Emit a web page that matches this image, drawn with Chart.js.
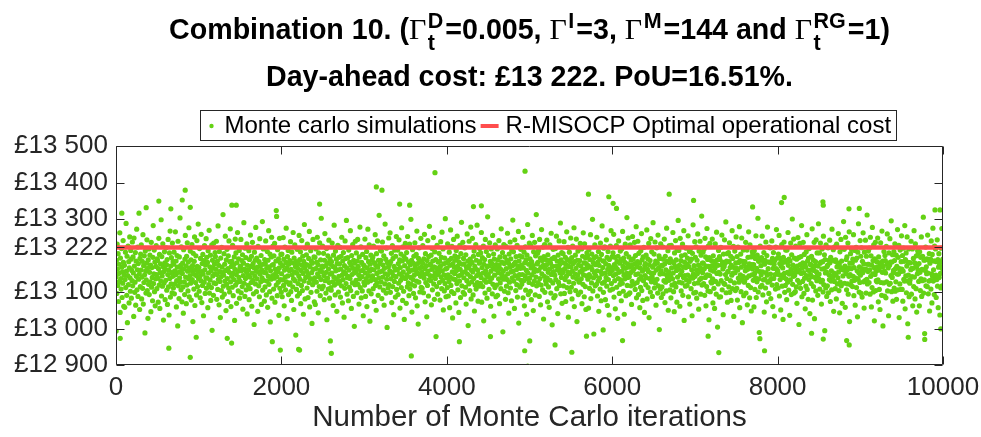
<!DOCTYPE html>
<html>
<head>
<meta charset="utf-8">
<script src="https://cdn.jsdelivr.net/npm/chart.js@4.4.0/dist/chart.umd.min.js"></script>
<style>
  html, body { margin: 0; padding: 0; background: #fff; }
  #chart { display: block; }
</style>
</head>
<body>
<canvas id="chart" width="981" height="437"></canvas>
<script>
// Simulated operational cost of the Monte Carlo runs, in £ above 13 000.
// One array per 1000 iterations, one run kept every 4th iteration.
var COST_BASE = 13000;

var costs0k = [
  142,187,96,231,163,118,205,74,151,176,129,262,44,193,137,108,219,168,85,155,124,241,181,61,146,
  173,58,134,209,112,288,157,91,198,16,145,226,120,183,70,166,251,139,102,214,190,83,159,131,237,
  117,196,152,33,248,171,99,127,208,64,185,143,272,106,161,223,88,178,135,316,149,52,192,115,204,
  160,229,81,141,184,110,257,67,172,126,199,147,-12,212,158,97,133,179,243,104,165,28,188,121,218,
  93,154,201,128,174,46,236,113,167,140,76,195,282,123,150,215,101,182,62,136,170,227,148,109,191,
  186,138,72,164,247,119,203,55,153,177,130,298,89,197,144,116,232,169,23,156,125,210,180,79,162,
  132,221,175,105,189,66,148,244,114,160,37,207,137,267,86,171,122,194,153,98,234,143,183,111,176,
  209,95,158,122,265,147,185,59,131,200,168,7,239,117,154,82,196,139,303,127,173,106,224,164,73,
  151,179,114,42,216,163,128,93,190,255,141,171,68,198,119,235,157,103,182,136,276,87,166,145,212,
  124,188,78,159,230,134,172,19,206,149,108,184,251,63,161,126,199,145,92,241,170,115,155,286,137
];
var costs1k = [
  167,102,219,143,84,192,131,258,156,71,178,118,203,149,35,186,127,227,161,96,174,139,246,110,195,
  138,181,57,213,152,120,269,97,169,133,201,77,158,112,229,-5,187,144,166,91,234,125,177,150,208,
  197,123,162,239,80,148,185,107,281,135,173,65,211,156,129,30,193,142,104,222,168,86,153,312,116,
  146,205,94,176,130,253,159,49,188,121,217,137,74,164,199,111,240,154,100,183,273,128,60,170,143,
  184,113,228,151,90,175,134,196,22,162,245,119,207,148,69,180,127,263,157,103,191,140,214,83,166,
  129,171,244,98,158,186,115,202,53,145,179,290,124,163,88,220,137,194,106,155,232,40,173,147,118,
  160,213,79,189,141,109,256,170,126,198,61,152,236,132,178,95,167,11,209,144,187,122,277,157,101,
  193,136,168,47,225,155,117,183,87,246,149,172,128,200,66,161,139,293,105,176,218,132,154,75,189,
  114,177,240,152,92,165,130,211,58,187,143,268,121,169,101,204,18,158,135,196,250,83,174,145,226,
  175,108,199,138,233,72,163,151,185,119,307,142,90,216,156,127,191,36,166,247,110,180,134,203,99
];
var costs2k = [
  150,204,87,172,133,249,118,190,62,160,223,141,106,181,275,128,167,27,197,144,214,93,176,121,158,
  186,125,238,101,162,77,209,147,180,114,263,136,52,193,155,229,131,170,-18,183,107,152,217,89,165,
  123,178,144,255,96,189,135,210,68,159,118,241,173,104,198,151,39,184,130,285,166,81,220,140,175,
  202,157,111,231,174,85,148,192,126,266,59,169,137,213,99,185,153,14,179,120,244,162,132,196,73,
  139,195,66,164,218,127,182,102,250,150,175,43,207,142,115,235,161,90,188,134,302,156,109,171,226,
  168,116,206,145,79,187,260,131,172,97,154,219,24,180,138,199,108,163,242,126,83,191,149,176,112,
  105,183,152,234,128,170,63,201,141,283,119,167,92,212,158,135,190,47,178,124,228,161,100,143,195,
  177,129,222,86,163,198,117,250,146,70,185,134,208,155,31,172,110,240,151,192,123,296,166,94,139,
  194,143,76,215,160,113,181,137,268,104,173,55,200,148,125,230,165,88,187,152,6,179,120,239,156,
  132,207,164,98,185,244,121,170,147,67,196,136,278,112,158,224,84,181,142,103,203,159,35,174,127
];
var costs3k = [
  171,119,245,152,88,194,137,211,60,166,127,272,145,183,103,229,157,20,176,131,201,95,162,140,188,
  144,196,109,226,161,74,180,134,257,118,173,50,205,151,126,240,168,91,187,139,310,155,114,178,215,
  187,128,212,82,157,237,141,174,105,199,64,165,122,286,150,190,97,220,135,3,181,147,111,169,248,
  120,176,158,262,99,183,136,206,71,153,227,115,192,145,38,170,129,215,160,86,198,142,252,107,163,
  161,215,93,178,124,243,150,188,56,167,132,204,112,276,143,185,77,224,155,102,197,25,172,138,233,
  137,190,69,208,147,114,252,164,125,182,90,156,231,108,175,140,299,121,187,45,160,216,134,179,96,
  198,146,117,235,170,84,159,203,130,267,62,178,151,12,192,127,221,165,100,185,143,247,113,168,154,
  110,179,227,148,98,191,138,258,164,73,205,126,172,150,32,186,118,241,157,89,197,133,280,174,145,
  176,131,201,65,162,219,106,185,143,249,122,169,80,210,153,137,189,-22,166,115,228,148,94,182,159,
  153,206,126,184,78,170,238,141,195,109,264,158,132,218,51,177,147,103,193,123,301,163,87,180,139
];
var costs4k = [
  165,112,232,147,89,186,129,209,57,173,141,270,118,192,101,225,155,29,178,136,244,96,168,151,199,
  134,187,70,214,159,123,253,170,106,195,144,44,181,130,228,162,85,205,147,291,117,176,153,236,99,
  192,139,177,94,221,156,113,202,67,168,131,259,149,185,8,166,122,239,174,104,190,142,278,81,160,
  128,181,247,155,92,198,137,212,48,171,119,164,230,108,187,145,283,126,160,75,203,150,116,179,219,
  183,124,207,140,263,72,167,194,115,152,226,21,176,133,189,97,244,158,127,211,146,83,170,306,141,
  148,200,107,172,235,129,184,61,157,218,138,177,95,255,121,165,204,34,190,146,112,229,162,87,175,
  119,169,218,91,188,153,136,241,174,68,196,125,163,109,273,149,182,143,208,-9,157,135,230,178,102,
  196,142,80,225,164,116,187,134,261,150,98,179,42,204,127,168,237,111,191,155,76,214,139,172,297,
  157,210,130,177,55,243,145,182,104,197,161,120,228,86,171,138,266,15,185,148,199,113,165,217,132,
  174,121,196,148,250,84,166,131,209,62,180,144,224,105,188,159,39,201,136,285,152,93,176,126,234
];
var costs5k = [
  138,191,102,227,166,79,183,147,255,121,172,49,210,155,130,236,162,92,199,141,312,117,177,158,206,
  181,126,214,160,88,244,137,193,65,168,119,271,150,186,106,223,173,26,197,143,230,99,164,131,189,
  122,175,242,139,73,202,154,114,186,58,163,229,132,179,97,261,148,191,10,170,125,217,156,84,195,
  192,146,90,219,134,171,253,109,185,160,41,201,127,167,240,118,176,152,289,95,188,140,208,69,159,
  153,205,117,180,238,96,164,134,195,74,176,143,265,112,189,155,222,31,170,128,209,150,101,183,248,
  169,113,194,81,157,226,141,178,124,276,60,183,150,201,104,165,245,136,19,187,146,212,93,174,130,
  127,186,155,233,100,171,136,218,68,159,198,121,262,147,180,87,232,163,115,193,52,178,144,207,166,
  200,135,172,56,216,148,110,189,142,257,82,168,125,204,161,299,103,181,139,-15,194,153,229,117,175,
  144,197,121,250,158,89,182,130,211,47,173,138,190,108,234,156,76,203,149,281,124,167,185,99,220,
  185,128,224,152,79,177,140,243,116,195,63,162,211,134,173,37,189,151,105,226,167,268,123,158,196
];
var costs6k = [
  160,108,207,145,258,86,175,131,195,54,168,149,227,113,184,163,28,198,137,240,154,96,179,121,212,
  133,189,76,218,157,124,266,170,102,193,146,39,182,136,231,165,90,205,151,304,118,177,140,248,94,
  196,142,168,98,229,153,117,187,66,174,129,252,158,191,13,163,121,236,178,107,200,148,279,84,169,
  126,183,239,150,93,206,135,179,57,166,113,213,142,260,104,188,157,77,196,131,222,162,44,173,145,
  178,120,201,139,270,81,162,191,112,156,233,30,174,137,186,100,246,152,128,210,143,88,168,290,134,
  152,204,111,176,237,125,185,64,160,221,135,180,97,256,117,167,199,-3,192,149,108,232,158,85,173,
  114,171,224,95,190,150,131,245,177,71,198,127,161,103,275,146,184,139,213,50,155,132,227,181,106,
  191,144,84,228,166,119,183,136,263,152,101,180,46,207,124,170,241,114,188,159,72,216,141,164,296,
  163,214,127,174,61,247,148,186,103,199,157,125,231,91,169,140,268,22,182,145,202,116,167,220,133,
  176,118,193,146,254,87,170,129,211,67,184,141,219,109,190,161,35,206,138,284,150,97,172,123,238
];
var costs7k = [
  143,195,99,224,161,83,187,150,259,125,174,53,212,157,134,239,166,94,201,138,308,119,179,153,209,
  179,123,217,164,91,247,140,196,62,171,115,274,147,189,103,226,170,24,194,145,233,101,160,128,186,
  125,172,245,136,70,199,157,110,183,55,165,232,129,176,94,264,151,188,4,173,122,214,154,86,197,
  189,149,87,222,131,174,256,106,182,163,38,204,124,170,243,121,179,148,292,98,185,137,205,72,156,
  156,208,114,183,235,99,167,131,198,77,173,146,268,109,192,152,225,33,167,125,212,153,104,180,251,
  166,110,197,78,160,223,138,181,127,279,57,186,147,204,101,168,248,133,16,184,143,215,90,177,127,
  130,183,158,236,97,168,139,215,65,162,195,118,265,144,177,84,229,166,112,196,48,175,147,210,163,
  203,132,175,59,213,151,107,192,139,254,85,165,128,201,158,302,100,184,136,-11,191,156,226,114,172,
  147,194,118,253,155,92,185,133,208,45,176,135,187,111,237,153,73,200,146,278,127,164,182,96,223,
  182,131,221,149,82,180,137,240,119,192,60,165,208,137,176,34,186,148,108,223,164,271,120,161,193
];
var costs8k = [
  157,111,204,148,255,89,178,134,192,51,171,146,230,116,181,166,25,195,140,237,151,99,182,118,215,
  136,186,79,215,154,127,263,173,105,190,149,36,185,133,234,162,93,202,154,300,121,174,143,245,97,
  193,145,165,101,226,156,114,190,69,171,132,249,155,194,11,160,124,233,175,110,197,151,282,87,166,
  129,180,236,153,96,203,138,176,54,169,116,210,145,257,107,185,160,80,193,134,219,159,41,176,148,
  175,123,198,142,273,78,165,188,115,159,236,27,171,140,183,103,243,155,131,207,146,91,171,287,137,
  149,207,108,179,234,128,182,67,163,218,132,183,100,253,120,164,202,-6,189,152,111,229,155,88,170,
  117,174,221,98,187,147,134,242,180,74,195,130,158,106,272,143,187,142,216,47,152,129,224,184,109,
  188,147,81,231,169,122,180,139,260,155,104,177,43,210,127,167,244,117,185,162,69,219,144,161,293,
  160,217,124,171,58,250,151,189,106,196,160,122,234,94,166,143,265,19,179,148,205,119,164,217,130,
  179,115,190,143,257,90,167,132,214,64,187,138,222,112,193,158,32,209,135,287,153,100,169,126,241
];
var costs9k = [
  146,198,96,221,164,86,184,153,262,128,177,56,209,160,131,242,163,97,198,135,311,122,176,156,212,
  176,126,220,161,94,250,143,199,59,174,112,277,150,186,100,229,167,21,191,148,236,104,157,131,183,
  128,169,248,133,73,196,160,107,180,52,168,235,126,179,91,267,154,185,7,170,125,211,157,89,200,
  186,152,84,225,128,177,259,103,179,166,35,207,121,173,246,124,182,145,295,101,182,140,202,75,153,
  159,211,111,186,232,102,164,128,201,80,170,149,271,106,195,149,228,30,164,122,215,156,107,183,254,
  163,107,200,75,157,220,135,184,130,282,54,189,144,207,98,171,251,130,13,181,146,218,87,180,124,
  133,180,161,239,94,165,142,218,62,165,192,115,268,141,180,81,232,169,109,199,45,172,150,213,160,
  206,129,178,62,210,154,104,195,136,251,88,162,131,198,161,305,97,187,133,-14,188,159,223,117,169,
  150,191,115,256,152,95,188,130,205,48,179,132,190,108,240,150,70,203,143,275,130,161,185,93,226,
  185,134,218,146,85,183,134,243,116,189,57,168,205,140,173,37,183,151,111,220,167,274,117,164,190
];
var costBlocks = [costs0k, costs1k, costs2k, costs3k, costs4k, costs5k, costs6k, costs7k, costs8k, costs9k];

// Runs far from the main band (iteration, cost in £)
var outlierIterations = [
  2, 51, 70, 365, 518, 639, 663, 801, 837, 898, 898, 970, 1345, 1398, 1401, 1454, 1890, 1938, 1987, 2208,
  2220, 2462, 2592, 2604, 3148, 3216, 3430, 3551, 3571, 3857, 4152, 4322, 4418, 4528, 4942, 4946, 4978, 5003,
  5309, 5512, 5689, 5713, 5891, 5959, 6011, 6052, 6125, 6689, 6984, 7160, 7289, 7698, 7786, 7842, 8048, 8080,
  8411, 8548, 8552, 8552, 8835, 8863, 8866, 8988, 9580, 9779, 9903, 9964, 9973
];
var outlierCosts = [
  12993, 12973, 13316, 13331, 13349, 12946, 13328, 13352, 13379, 13332, 12921, 12976, 12973, 12960, 13338, 13338, 12964, 13323, 12941, 12943,
  12941, 13341, 12966, 12932, 13388, 13379, 13341, 13338, 12925, 13427, 12964, 13334, 13336, 12978, 12939, 13431, 12897, 12966,
  12955, 12935, 12979, 13368, 12996, 13361, 13343, 13329, 12967, 13368, 13351, 12979, 12934, 13333, 12972, 12939, 13345, 13359,
  12987, 13347, 13338, 12971, 12967, 13328, 12955, 13329, 12976, 12970, 13325, 13325, 12999
];

// R-MISOCP day-ahead cost and probability of underestimation
var dayAheadCost = 13222;
var pouPercent = 16.51;
var lineIterations = [1, 10000];

var costTicks = [12900, 13000, 13100, 13222, 13300, 13400, 13500];
var iterationTicks = [0, 2000, 4000, 6000, 8000, 10000];
var seriesNames = ['Monte carlo simulations', 'R-MISOCP Optimal operational cost'];

var AXIS = '#262626';
var GREEN = 'rgb(100,210,20)';
var RED = '#ff4d4d';
var SANS = '"Liberation Sans", Arial, Helvetica, sans-serif';
var SERIF = '"Liberation Serif", "DejaVu Serif", serif';

function pounds(v) {
  var k = Math.floor(v / 1000);
  var r = String(Math.round(v - k * 1000));
  while (r.length < 3) r = '0' + r;
  return '£' + k + ' ' + r;
}

var simPoints = [];
costBlocks.forEach(function (block, b) {
  var step = 1000 / block.length;
  block.forEach(function (c, j) {
    simPoints.push({ x: b * 1000 + (j + 0.5) * step, y: COST_BASE + c });
  });
});
outlierIterations.forEach(function (it, i) {
  simPoints.push({ x: it, y: outlierCosts[i] });
});

// Title with Gamma symbols, superscripts and subscripts
var titleLine1 = [
  { text: 'Combination 10. (' },
  { text: 'Γ', serif: true }, { sup: 'D', sub: 't' },
  { text: '=0.005, ' },
  { text: 'Γ', serif: true }, { sup: 'I' },
  { text: '=3, ' },
  { text: 'Γ', serif: true }, { sup: 'M' },
  { text: '=144 and ' },
  { text: 'Γ', serif: true }, { sup: 'RG', sub: 't' },
  { text: '=1)' }
];
var titleLine2 = [
  { text: 'Day-ahead cost: ' + pounds(dayAheadCost) + '. PoU=' + pouPercent.toFixed(2) + '%.' }
];

var TITLE_FONT = 'bold 28.6px ' + SANS;
var SCRIPT_FONT = 'bold 21.5px ' + SANS;
var GAMMA_FONT = '30px ' + SERIF;

function partWidth(ctx, p) {
  if (p.text) {
    ctx.font = p.serif ? GAMMA_FONT : TITLE_FONT;
    return ctx.measureText(p.text).width + (p.serif ? 1.5 : 0);
  }
  ctx.font = SCRIPT_FONT;
  var w = 0;
  if (p.sup) w = Math.max(w, ctx.measureText(p.sup).width);
  if (p.sub) w = Math.max(w, ctx.measureText(p.sub).width);
  return w + 2;
}

function drawRichLine(ctx, parts, cx, baseline) {
  var total = 0;
  parts.forEach(function (p) { total += partWidth(ctx, p); });
  var x = cx - total / 2;
  ctx.textAlign = 'left';
  ctx.textBaseline = 'alphabetic';
  ctx.fillStyle = '#000';
  parts.forEach(function (p) {
    var w = partWidth(ctx, p);
    if (p.text) {
      ctx.font = p.serif ? GAMMA_FONT : TITLE_FONT;
      ctx.fillText(p.text, x, baseline);
    } else {
      ctx.font = SCRIPT_FONT;
      if (p.sup) ctx.fillText(p.sup, x, baseline - 11);
      if (p.sub) ctx.fillText(p.sub, x, baseline + 11);
    }
    x += w;
  });
}

var titlePlugin = {
  id: 'richTitle',
  afterDraw: function (chart) {
    var ctx = chart.ctx;
    var a = chart.chartArea;
    var cx = (a.left + a.right) / 2;
    ctx.save();
    drawRichLine(ctx, titleLine1, cx, 38.5);
    drawRichLine(ctx, titleLine2, cx, 86);
    ctx.restore();
  }
};

// Boxed legend above the axes
var legendPlugin = {
  id: 'boxLegend',
  afterDraw: function (chart) {
    var ctx = chart.ctx;
    var left = 200.5, top = 110.5, h = 30;
    var cy = top + h / 2 + 0.5;
    ctx.save();
    ctx.font = '24px ' + SANS;
    var w1 = ctx.measureText(seriesNames[0]).width;
    var w2 = ctx.measureText(seriesNames[1]).width;
    var t1 = left + 24;
    var l1 = t1 + w1 + 4, l2 = l1 + 18;
    var t2 = l2 + 7;
    var right = Math.round(t2 + w2 + 5) + 0.5;

    ctx.fillStyle = '#fff';
    ctx.fillRect(left, top, right - left, h);
    ctx.strokeStyle = AXIS;
    ctx.lineWidth = 1;
    ctx.strokeRect(left, top, right - left, h);

    ctx.fillStyle = GREEN;
    ctx.beginPath();
    ctx.arc(left + 11, cy, 2.2, 0, Math.PI * 2);
    ctx.fill();

    ctx.strokeStyle = RED;
    ctx.lineWidth = 4;
    ctx.beginPath();
    ctx.moveTo(l1, cy);
    ctx.lineTo(l2, cy);
    ctx.stroke();

    ctx.fillStyle = '#000';
    ctx.textBaseline = 'middle';
    ctx.textAlign = 'left';
    ctx.fillText(seriesNames[0], t1, cy);
    ctx.fillText(seriesNames[1], t2, cy);
    ctx.restore();
  }
};

// Full box round the axes with inward ticks on all four sides
var framePlugin = {
  id: 'axesFrame',
  afterDatasetsDraw: function (chart) {
    var ctx = chart.ctx;
    var a = chart.chartArea;
    var xs = chart.scales.x, ys = chart.scales.y;
    var L = Math.round(a.left) + 0.5, R = Math.round(a.right) - 0.5;
    var T = Math.round(a.top) + 0.5, B = Math.round(a.bottom) - 0.5;
    var tick = 8;
    ctx.save();
    ctx.strokeStyle = AXIS;
    ctx.lineWidth = 1;
    ctx.beginPath();
    ctx.rect(L, T, R - L, B - T);
    iterationTicks.forEach(function (v) {
      var px = Math.round(xs.getPixelForValue(v)) + 0.5;
      ctx.moveTo(px, B); ctx.lineTo(px, B - tick);
      ctx.moveTo(px, T); ctx.lineTo(px, T + tick);
    });
    costTicks.forEach(function (v) {
      var py = Math.round(ys.getPixelForValue(v)) + 0.5;
      ctx.moveTo(L, py); ctx.lineTo(L + tick, py);
      ctx.moveTo(R, py); ctx.lineTo(R - tick, py);
    });
    ctx.stroke();
    ctx.restore();
  }
};

var ctx = document.getElementById('chart').getContext('2d');
new Chart(ctx, {
  type: 'scatter',
  data: {
    datasets: [
      {
        label: seriesNames[1],
        type: 'line',
        data: lineIterations.map(function (it) { return { x: it, y: dayAheadCost }; }),
        borderColor: RED,
        borderWidth: 4.5,
        pointRadius: 0,
        order: 0
      },
      {
        label: seriesNames[0],
        data: simPoints,
        pointBackgroundColor: GREEN,
        pointBorderWidth: 0,
        pointRadius: 2.6,
        order: 1
      }
    ]
  },
  options: {
    responsive: false,
    animation: false,
    devicePixelRatio: 1,
    layout: { padding: { top: 146, right: 38, left: 0, bottom: 0 } },
    plugins: {
      legend: { display: false },
      title: { display: false },
      tooltip: { enabled: false }
    },
    scales: {
      x: {
        type: 'linear',
        min: 0,
        max: 10000,
        afterBuildTicks: function (s) {
          s.ticks = iterationTicks.map(function (v) { return { value: v }; });
        },
        ticks: {
          callback: function (v) { return String(v); },
          font: { family: SANS, size: 26 },
          color: AXIS,
          padding: 7,
          maxRotation: 0,
          autoSkip: false
        },
        grid: { display: false, drawTicks: false },
        border: { display: false },
        title: {
          display: true,
          text: 'Number of Monte Carlo iterations',
          font: { family: SANS, size: 29.5 },
          color: AXIS,
          padding: { top: 0, bottom: 1 }
        },
        afterFit: function (s) {
          s.height = 72;
          s.paddingLeft = 0;
          s.paddingRight = 0;
        }
      },
      y: {
        type: 'linear',
        min: 12900,
        max: 13500,
        afterBuildTicks: function (s) {
          s.ticks = costTicks.map(function (v) { return { value: v }; });
        },
        ticks: {
          callback: function (v) { return pounds(v); },
          font: { family: SANS, size: 26 },
          color: AXIS,
          padding: 8,
          autoSkip: false
        },
        grid: { display: false, drawTicks: false },
        border: { display: false },
        afterFit: function (s) {
          s.width = 116;
          s.paddingTop = 0;
          s.paddingBottom = 0;
        }
      }
    }
  },
  plugins: [framePlugin, legendPlugin, titlePlugin]
});
</script>
</body>
</html>
